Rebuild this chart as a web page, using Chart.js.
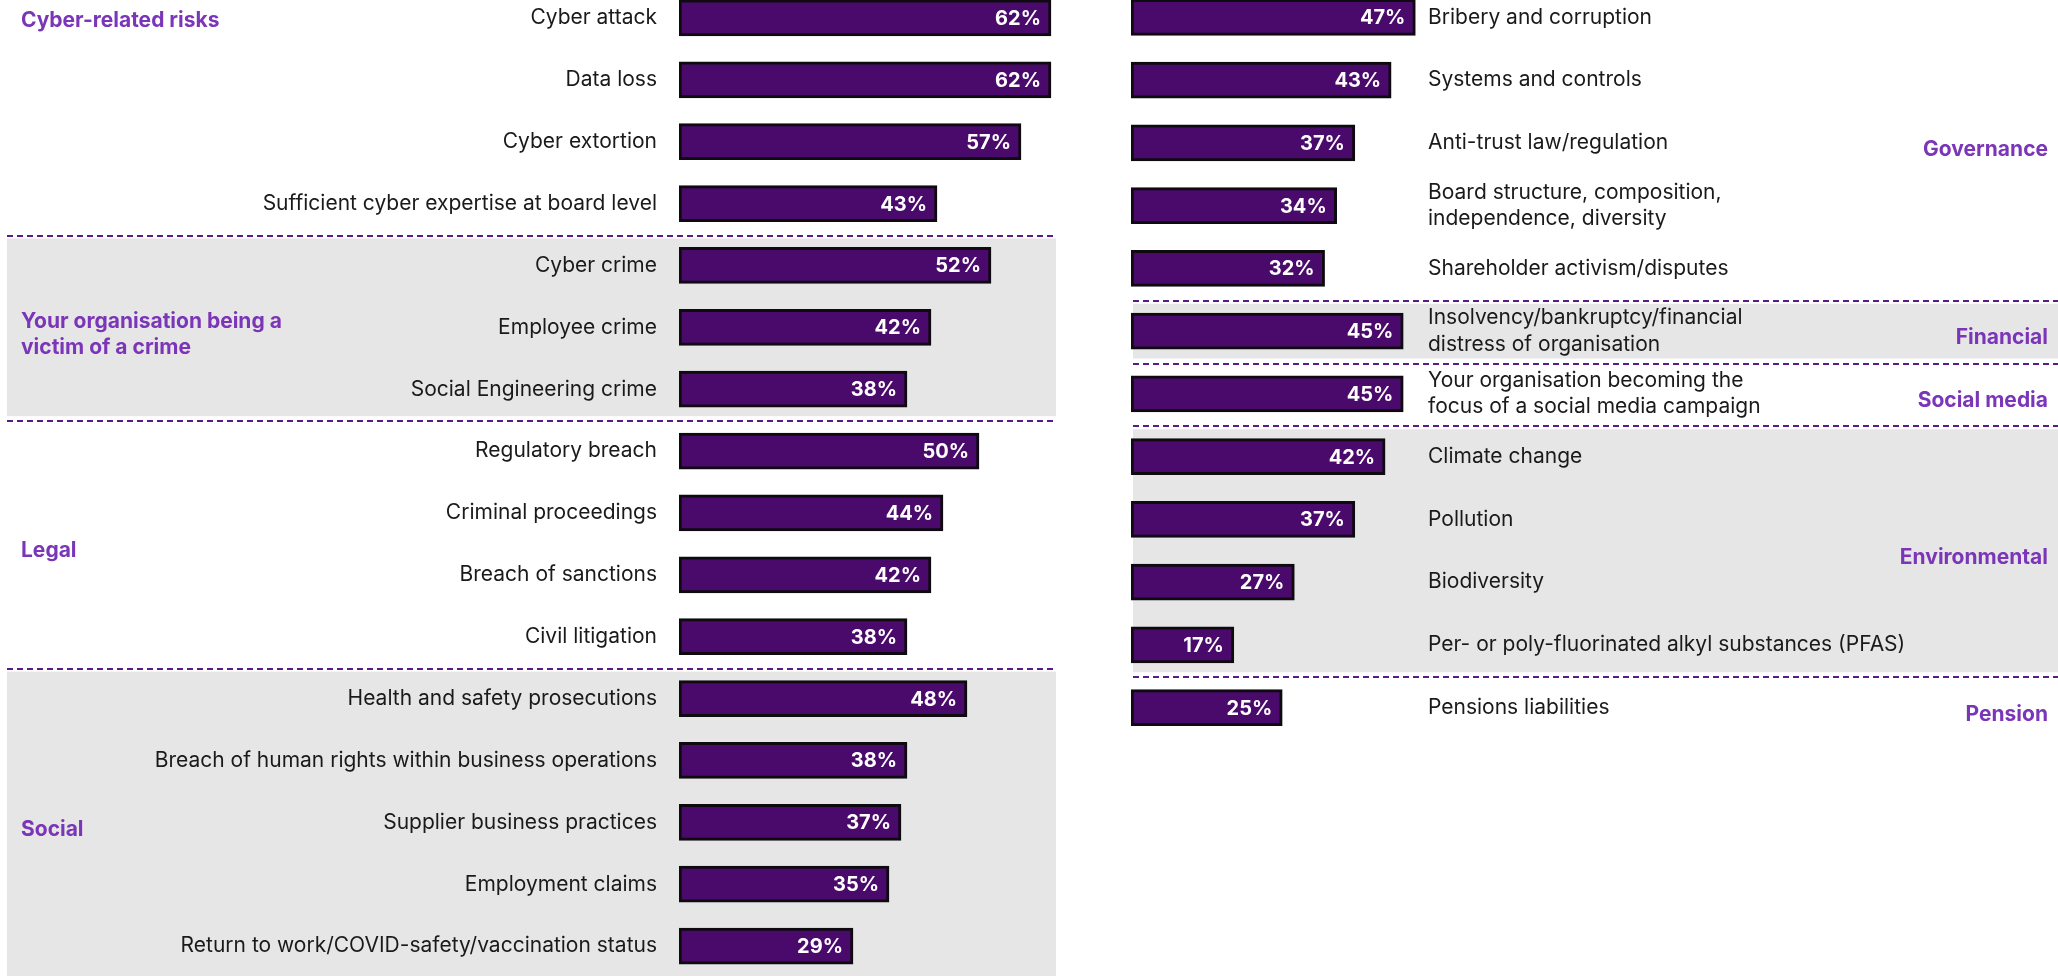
<!DOCTYPE html>
<html>
<head>
<meta charset="utf-8">
<script src="https://cdn.jsdelivr.net/npm/chart.js@4.4.1/dist/chart.umd.min.js"></script>
<style>
  html, body { margin: 0; padding: 0; background: #ffffff; overflow: hidden; }
  body { width: 2058px; height: 976px; position: relative; }
  canvas { position: absolute; }
  #left { left: 0; top: -13px; }
  #right { left: 1131px; top: -14px; }
</style>
</head>
<body>
<canvas id="left" width="1060" height="990"></canvas>
<canvas id="right" width="927" height="753"></canvas>
<script>
// Risk concerns — two horizontal bar panels, grouped by theme
const FONT = "Inter, 'Noto Sans', sans-serif";
const BAR_FILL = "#4a0a6b";
const BAR_EDGE = "#0e0a10";
const GROUP_COLOR = "#7b35b8";
const DASH_COLOR = "#5a1a88";
const BAND_COLOR = "#e6e6e6";

// left panel
const leftLabels = [
  "Cyber attack", "Data loss", "Cyber extortion", "Sufficient cyber expertise at board level",
  "Cyber crime", "Employee crime", "Social Engineering crime",
  "Regulatory breach", "Criminal proceedings", "Breach of sanctions", "Civil litigation",
  "Health and safety prosecutions", "Breach of human rights within business operations",
  "Supplier business practices", "Employment claims", "Return to work/COVID-safety/vaccination status",
];
const leftValues = [62, 62, 57, 43, 52, 42, 38, 50, 44, 42, 38, 48, 38, 37, 35, 29];
const leftGroups = ["Cyber-related risks", ["Your organisation being a", "victim of a crime"], "Legal", "Social"];
const leftGroupSizes = [4, 3, 4, 5];

// right panel
const rightLabels = [
  "Bribery and corruption", "Systems and controls", "Anti-trust law/regulation",
  ["Board structure, composition,", "independence, diversity"], "Shareholder activism/disputes",
  ["Insolvency/bankruptcy/financial", "distress of organisation"],
  ["Your organisation becoming the", "focus of a social media campaign"],
  "Climate change", "Pollution", "Biodiversity", "Per- or poly-fluorinated alkyl substances (PFAS)",
  "Pensions liabilities",
];
const rightValues = [47, 43, 37, 34, 32, 45, 45, 42, 37, 27, 17, 25];
const rightGroups = ["Governance", "Financial", "Social media", "Environmental", "Pension"];
const rightGroupSizes = [5, 1, 1, 4, 1];

// bands + dashed separators + group titles, all placed from the y scale
function groupPlugin(groups, sizes, opts) {
  return {
    id: "groups",
    beforeDraw(chart) {
      const { ctx, chartArea } = chart;
      const y = chart.scales.y;
      let start = 0;
      const cuts = [];
      sizes.forEach((n, i) => {
        const end = start + n - 1;
        const top = i === 0 ? chartArea.top : (y.getPixelForValue(start - 1) + y.getPixelForValue(start)) / 2;
        const bottom = i === sizes.length - 1 ? chartArea.bottom + 20 : (y.getPixelForValue(end) + y.getPixelForValue(end + 1)) / 2;
        if (i > 0) cuts.push(top);
        if (i % 2 === 1) {
          ctx.save();
          ctx.fillStyle = BAND_COLOR;
          ctx.fillRect(opts.bandX0, top + 4, opts.bandX1 - opts.bandX0, (i === sizes.length - 1 ? bottom : bottom - 4) - top - 4);
          ctx.restore();
        }
        start += n;
      });
      ctx.save();
      ctx.strokeStyle = DASH_COLOR;
      ctx.lineWidth = 2;
      ctx.setLineDash([6, 4]);
      cuts.forEach((cy) => {
        const yy = Math.round(cy) + 1;
        ctx.beginPath();
        ctx.moveTo(opts.bandX0, yy);
        ctx.lineTo(opts.bandX1 + 1, yy);
        ctx.stroke();
      });
      ctx.restore();
    },
    afterDraw(chart) {
      const { ctx } = chart;
      const y = chart.scales.y;
      ctx.save();
      ctx.fillStyle = GROUP_COLOR;
      ctx.font = `bold 21px ${FONT}`;
      ctx.textAlign = opts.align;
      ctx.textBaseline = "middle";
      let start = 0;
      sizes.forEach((n, i) => {
        const end = start + n - 1;
        let cy = (y.getPixelForValue(start) + y.getPixelForValue(end)) / 2 + 7;
        if (opts.firstAtTop && i === 0) cy = y.getPixelForValue(0) + 3;
        const lines = [].concat(groups[i]);
        lines.forEach((line, k) => {
          ctx.fillText(line, opts.textX, cy + (k - (lines.length - 1) / 2) * 26);
        });
        start += n;
      });
      ctx.restore();
    },
  };
}

// white percentage inside the bar end
const valueLabels = {
  id: "valueLabels",
  afterDatasetsDraw(chart) {
    const { ctx } = chart;
    const meta = chart.getDatasetMeta(0);
    ctx.save();
    ctx.fillStyle = "#ffffff";
    ctx.font = `bold 20px ${FONT}`;
    ctx.textAlign = "right";
    ctx.textBaseline = "middle";
    meta.data.forEach((bar, i) => {
      ctx.fillText(chart.data.datasets[0].data[i] + "%", bar.x - 10, bar.y + 1);
    });
    ctx.restore();
  },
};

function makeChart(id, labels, values, axis) {
  return new Chart(document.getElementById(id), {
    type: "bar",
    data: {
      labels,
      datasets: [{
        data: values,
        backgroundColor: BAR_FILL,
        borderColor: BAR_EDGE,
        borderWidth: 3,
        borderSkipped: false,
        barThickness: 36,
      }],
    },
    options: {
      indexAxis: "y",
      responsive: false,
      animation: false,
      layout: { padding: 0 },
      plugins: { legend: { display: false }, tooltip: { enabled: false } },
      scales: {
        x: { display: false, min: 0, max: axis.max },
        y: {
          position: axis.position,
          grid: { display: false, drawTicks: false },
          border: { display: false },
          ticks: {
            color: "#1a1a1a",
            padding: axis.padding,
            font: { family: FONT, size: 21, lineHeight: 1.25 },
            autoSkip: false,
          },
          afterFit: (scale) => {
            // fixed gutter width, and no extra vertical padding for end labels
            scale.width = axis.width;
            scale.paddingTop = 0;
            scale.paddingBottom = 0;
          },
        },
      },
    },
    plugins: [axis.groups, valueLabels],
  });
}

makeChart("left", leftLabels, leftValues, {
  position: "left", width: 679, padding: 22, max: (1060 - 679) / 6.0,
  groups: groupPlugin(leftGroups, leftGroupSizes, { bandX0: 7, bandX1: 1056, textX: 21, align: "left", firstAtTop: true }),
});

makeChart("right", rightLabels, rightValues, {
  position: "right", width: 630, padding: 0, max: 297 / 6.05,
  groups: groupPlugin(rightGroups, rightGroupSizes, { bandX0: 2, bandX1: 927, textX: 917, align: "right", firstAtTop: false }),
});
</script>
</body>
</html>
